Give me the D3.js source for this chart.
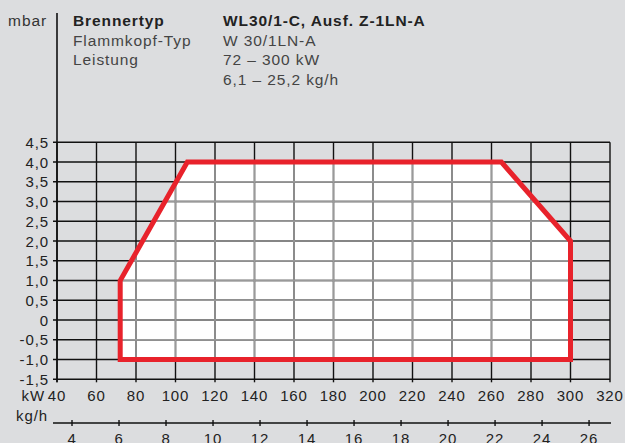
<!DOCTYPE html>
<html lang="de">
<head>
<meta charset="UTF-8">
<title>Brennertyp WL30/1-C</title>
<script src="https://cdnjs.cloudflare.com/ajax/libs/d3/7.8.5/d3.min.js"></script>
<style>
  html, body { margin: 0; padding: 0; background: #dcdddf; }
  svg { display: block; font-family: "Liberation Sans", Arial, sans-serif; }
  text { letter-spacing: 0.9px; }
</style>
</head>
<body>
<svg id="chart" width="625" height="443"></svg>
<script>
// working field: kW vs mbar
const fieldKW = [72, 72, 106, 265, 300, 300];
const fieldMbar = [-1.0, 1.0, 4.0, 4.0, 2.0, -1.0];

const kwTicks = [40, 60, 80, 100, 120, 140, 160, 180, 200, 220, 240, 260, 280, 300, 320];
const mbarTicks = [-1.5, -1.0, -0.5, 0, 0.5, 1.0, 1.5, 2.0, 2.5, 3.0, 3.5, 4.0, 4.5];
const kghTicks = [4, 6, 8, 10, 12, 14, 16, 18, 20, 22, 24, 26];
const kwPerKgh = 11.9;

const infoLabels = ["Brennertyp", "Flammkopf-Typ", "Leistung", ""];
const infoValues = ["WL30/1-C, Ausf. Z-1LN-A", "W 30/1LN-A", "72 – 300 kW", "6,1 – 25,2 kg/h"];

const svg = d3.select("#chart");
const plotL = 57, plotR = 610, plotT = 142.3, plotB = 379.3;

const x = d3.scaleLinear().domain([40, 320]).range([plotL, plotR]);
const y = d3.scaleLinear().domain([-1.5, 4.5]).range([plotB, plotT]);
const xKgh = d3.scaleLinear().domain([40 / kwPerKgh, 320 / kwPerKgh]).range([plotL, plotR]);

const fmt = v => v === 0 ? "0" : d3.format(".1f")(v).replace(".", ",").replace("−", "-");

const pts = fieldKW.map((k, i) => [x(k), y(fieldMbar[i])]);
const fieldPath = d3.line()(pts) + "Z";

// white field
svg.append("path").attr("d", fieldPath).attr("fill", "#fff");

svg.append("clipPath").attr("id", "field")
  .append("path").attr("d", fieldPath);

// grid (black)
const grid = svg.append("g").attr("stroke", "#111").attr("stroke-width", 1.4);
grid.selectAll("line.h").data(mbarTicks).join("line").attr("class", "h")
  .attr("x1", plotL - 4).attr("x2", plotR)
  .attr("y1", d => y(d)).attr("y2", d => y(d));
grid.selectAll("line.v").data(kwTicks).join("line").attr("class", "v")
  .attr("x1", d => x(d)).attr("x2", d => x(d))
  .attr("y1", plotT).attr("y2", plotB + 3);

// grid inside field (gray)
const gridIn = svg.append("g").attr("clip-path", "url(#field)")
  .attr("stroke", "#9a9a9a").attr("stroke-width", 1.6);
gridIn.selectAll("line.h").data(mbarTicks).join("line").attr("class", "h")
  .attr("x1", plotL).attr("x2", plotR)
  .attr("y1", d => y(d)).attr("y2", d => y(d));
gridIn.selectAll("line.v").data(kwTicks).join("line").attr("class", "v")
  .attr("x1", d => x(d)).attr("x2", d => x(d))
  .attr("y1", plotT).attr("y2", plotB);

// y axis line up to the title
svg.append("line")
  .attr("x1", plotL).attr("x2", plotL)
  .attr("y1", 13).attr("y2", plotB + 3)
  .attr("stroke", "#111").attr("stroke-width", 1.6);

// red field outline
svg.append("path")
  .attr("d", fieldPath)
  .attr("fill", "none")
  .attr("stroke", "#e8222b")
  .attr("stroke-width", 5)
  .attr("stroke-linejoin", "miter");

// y tick labels
svg.append("g").selectAll("text").data(mbarTicks).join("text")
  .attr("x", 49).attr("y", d => y(d) + 5.5)
  .attr("text-anchor", "end")
  .attr("font-size", 15).attr("fill", "#222")
  .text(fmt);

// kW tick labels
svg.append("g").selectAll("text").data(kwTicks).join("text")
  .attr("x", d => x(d)).attr("y", 401)
  .attr("text-anchor", "middle")
  .attr("font-size", 15).attr("fill", "#222")
  .text(d => d);
svg.append("text").attr("x", 45).attr("y", 401)
  .attr("text-anchor", "end").attr("font-size", 15).attr("fill", "#222")
  .text("kW");

// kg/h axis
const kgY = 423;
svg.append("line")
  .attr("x1", 53).attr("x2", 611)
  .attr("y1", kgY).attr("y2", kgY)
  .attr("stroke", "#111").attr("stroke-width", 1.4);
svg.append("g").selectAll("line").data(kghTicks).join("line")
  .attr("x1", d => xKgh(d)).attr("x2", d => xKgh(d))
  .attr("y1", kgY - 3).attr("y2", kgY + 3)
  .attr("stroke", "#111").attr("stroke-width", 1.4);
svg.append("g").selectAll("text").data(kghTicks).join("text")
  .attr("x", d => xKgh(d)).attr("y", 443.5)
  .attr("text-anchor", "middle")
  .attr("font-size", 15).attr("fill", "#222")
  .text(d => d);
svg.append("text").attr("x", 48).attr("y", 420.5)
  .attr("text-anchor", "end").attr("font-size", 15).attr("fill", "#222")
  .text("kg/h");

// unit + info block
svg.append("text").attr("x", 47).attr("y", 26)
  .attr("text-anchor", "end").attr("font-size", 15.5).attr("fill", "#333")
  .text("mbar");

infoLabels.forEach((t, i) => {
  svg.append("text").attr("x", 73).attr("y", 26 + i * 19.6)
    .attr("font-size", 15.5)
    .attr("font-weight", i === 0 ? "bold" : "normal")
    .attr("fill", i === 0 ? "#222" : "#444")
    .text(t);
});
infoValues.forEach((t, i) => {
  svg.append("text").attr("x", 223).attr("y", 26 + i * 19.6)
    .attr("font-size", 15.5)
    .attr("font-weight", i === 0 ? "bold" : "normal")
    .attr("fill", i === 0 ? "#222" : "#444")
    .text(t);
});
</script>
</body>
</html>
